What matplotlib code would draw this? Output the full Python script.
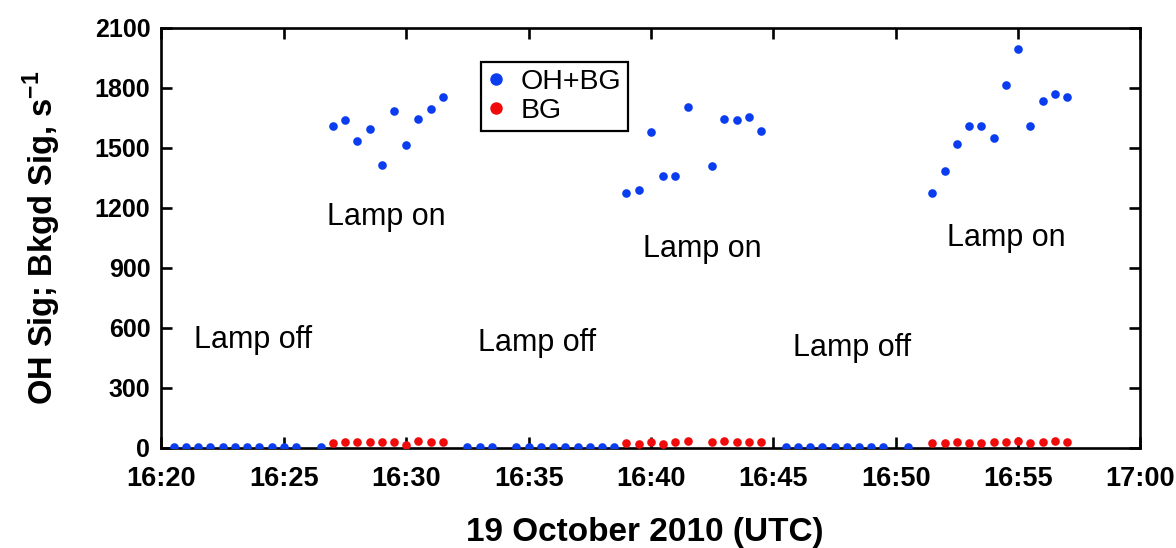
import numpy as np
import matplotlib
matplotlib.use('Agg')
import matplotlib.pyplot as plt
from matplotlib.ticker import FixedLocator, FuncFormatter

plt.rcParams['font.family'] = ['Liberation Sans', 'DejaVu Sans']
plt.rcParams['mathtext.fontset'] = 'custom'
plt.rcParams['mathtext.rm'] = 'Liberation Sans'
plt.rcParams['mathtext.bf'] = 'Liberation Sans:bold'

# minutes after 16:00 UTC, 19 October 2010
sig_time = [20.5, 21, 21.5, 22, 22.5, 23, 23.5, 24, 24.5, 25, 25.5, 26.5,
            27, 27.5, 28, 28.5, 29, 29.5, 30, 30.5, 31, 31.5,
            32.5, 33, 33.5, 34.5, 35, 35.5, 36, 36.5, 37, 37.5, 38, 38.5,
            39, 39.5, 40, 40.5, 41, 41.5, 42.5, 43, 43.5, 44, 44.5,
            45.5, 46, 46.5, 47, 47.5, 48, 48.5, 49, 49.5, 50.5,
            51.5, 52, 52.5, 53, 53.5, 54, 54.5, 55, 55.5, 56, 56.5, 57]
sig_vals = [5, 6, 5, 6, 5, 5, 4, 6, 5, 6, 5, 6,
            1608, 1640, 1535, 1593, 1415, 1683, 1512, 1642, 1695, 1753,
            5, 6, 5, 5, 6, 5, 4, 5, 5, 6, 5, 5,
            1275, 1288, 1578, 1360, 1360, 1705, 1410, 1643, 1640, 1655, 1585,
            6, 5, 5, 6, 5, 5, 4, 5, 5, 6,
            1273, 1382, 1520, 1607, 1610, 1547, 1812, 1995, 1608, 1735, 1768, 1753]

bg_time = [27, 27.5, 28, 28.5, 29, 29.5, 30, 30.5, 31, 31.5,
           39, 39.5, 40, 40.5, 41, 41.5, 42.5, 43, 43.5, 44, 44.5,
           51.5, 52, 52.5, 53, 53.5, 54, 54.5, 55, 55.5, 56, 56.5, 57]
bg_vals = [26, 31, 27, 27, 28, 28, 16, 32, 29, 27,
           24, 18, 30, 18, 27, 32, 30, 34, 30, 30, 28,
           24, 24, 27, 24, 24, 27, 29, 34, 24, 30, 32, 29]

notes = ['Lamp off', 'Lamp on', 'Lamp off', 'Lamp on', 'Lamp off', 'Lamp on']
note_x = [23.75, 29.2, 35.35, 42.1, 48.2, 54.5]
note_y = [538, 1155, 523, 995, 498, 1048]

blue = '#0a3cf0'
red = '#f00a0a'

fig = plt.figure(figsize=(11.76, 5.48), dpi=100)
ax = fig.add_axes([0.1373, 0.183, 0.8325, 0.7665])

ax.plot(bg_time, bg_vals, 'o', color=red, ms=6.2, mec='none', label='BG', zorder=3)
ax.plot(sig_time, sig_vals, 'o', color=blue, ms=6.2, mec='none', label='OH+BG', zorder=4)

for t, x, y in zip(notes, note_x, note_y):
    ax.text(x, y, t, fontsize=22, ha='center', va='center')

ax.set_xlim(20, 60)
ax.set_ylim(0, 2100)
ax.xaxis.set_major_locator(FixedLocator(np.arange(20, 61, 5)))
ax.xaxis.set_major_formatter(FuncFormatter(lambda v, p: '%d:%02d' % (16 + int(v) // 60, int(v) % 60)))
ax.yaxis.set_major_locator(FixedLocator(np.arange(0, 2101, 300)))

for s in ax.spines.values():
    s.set_linewidth(1.9)
ax.tick_params(direction='in', length=8, width=1.9, top=True, right=True)
ax.tick_params(axis='x', labelsize=19.5, pad=13.5)
ax.tick_params(axis='y', labelsize=18, pad=8)
for lab in ax.get_xticklabels() + ax.get_yticklabels():
    lab.set_fontweight('bold')

ax.set_xlabel('19 October 2010 (UTC)', fontsize=24, fontweight='bold')
ax.xaxis.set_label_coords(0.494, -0.165)
ax.set_ylabel('OH Sig; Bkgd Sig, s$^{\\mathbf{-1}}$', fontsize=23.5, fontweight='bold')
ax.yaxis.set_label_coords(-0.101, 0.50)

h, l = ax.get_legend_handles_labels()
leg = ax.legend(h[::-1], l[::-1], loc='upper left', bbox_to_anchor=(0.326, 0.918),
                fontsize=20.5, frameon=True, fancybox=False, framealpha=1,
                edgecolor='black', handlelength=0.6, handletextpad=0.55,
                borderpad=0.25, labelspacing=0.1, markerscale=1.45, borderaxespad=0)
leg.get_frame().set_linewidth(1.6)

fig.savefig('out.png', dpi=100)
